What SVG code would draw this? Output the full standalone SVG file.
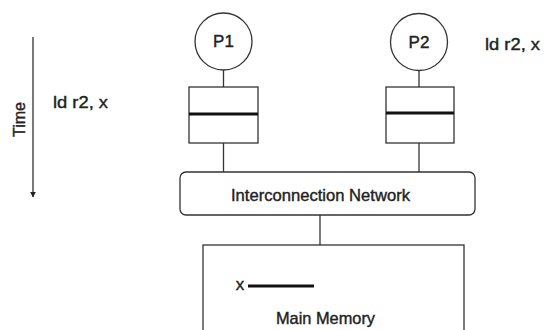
<svg xmlns="http://www.w3.org/2000/svg" width="544" height="330" viewBox="0 0 544 330">
<defs>
<style>
.s{fill:#fff;stroke:#333;stroke-width:1.3}
.l{fill:none;stroke:#333;stroke-width:1.3}
.k{fill:none;stroke:#111;stroke-width:3}
text{font-family:"Liberation Sans",Arial,sans-serif;font-size:17px;fill:#222;stroke:#222;stroke-width:0.4}
</style>
<marker id="ah" viewBox="0 0 10 10" refX="9" refY="5" markerWidth="6" markerHeight="7" orient="auto" markerUnits="userSpaceOnUse">
<path d="M0,0 L10,5 L0,10 z" fill="#222"/>
</marker>
</defs>
<rect width="544" height="330" fill="#fff"/>
<g id="connectors">
<line class="l" x1="33" y1="37" x2="33" y2="197" marker-end="url(#ah)"/>
<line class="l" x1="223.5" y1="70" x2="223.5" y2="87"/>
<line class="l" x1="223.5" y1="143" x2="223.5" y2="172"/>
<line class="l" x1="419" y1="70.5" x2="419" y2="87"/>
<line class="l" x1="419" y1="143" x2="419" y2="172"/>
<line class="l" x1="320" y1="215" x2="320" y2="245"/>
</g>
<g id="time">
<text transform="translate(25,119.5) rotate(-90)" text-anchor="middle" textLength="35" lengthAdjust="spacingAndGlyphs">Time</text>
</g>
<g id="p1">
<circle class="s" cx="223.5" cy="41.5" r="28.5"/>
<text x="223.5" y="47" text-anchor="middle" font-size="16">P1</text>
</g>
<g id="cache1">
<rect class="s" x="189" y="87" width="69" height="56"/>
<line class="k" x1="189" y1="114" x2="258" y2="114"/>
</g>
<g id="p2">
<circle class="s" cx="419" cy="42" r="28.5"/>
<text x="419" y="47.5" text-anchor="middle" font-size="16">P2</text>
</g>
<g id="cache2">
<rect class="s" x="386" y="87" width="68" height="56"/>
<line class="k" x1="386" y1="113" x2="454" y2="113"/>
</g>
<g id="op1">
<text x="53" y="108" textLength="55" lengthAdjust="spacingAndGlyphs">ld r2, x</text>
</g>
<g id="op2">
<text x="485" y="50" textLength="55" lengthAdjust="spacingAndGlyphs">ld r2, x</text>
</g>
<g id="network">
<rect class="s" x="180" y="172" width="295" height="43" rx="6"/>
<text x="231" y="201" textLength="179" lengthAdjust="spacingAndGlyphs">Interconnection Network</text>
</g>
<g id="memory">
<rect class="s" x="203" y="245" width="261" height="100"/>
<text x="240" y="290" text-anchor="middle">x</text>
<line class="k" x1="248" y1="286" x2="314" y2="286"/>
<text x="276" y="324" textLength="99" lengthAdjust="spacingAndGlyphs">Main Memory</text>
</g>
</svg>
